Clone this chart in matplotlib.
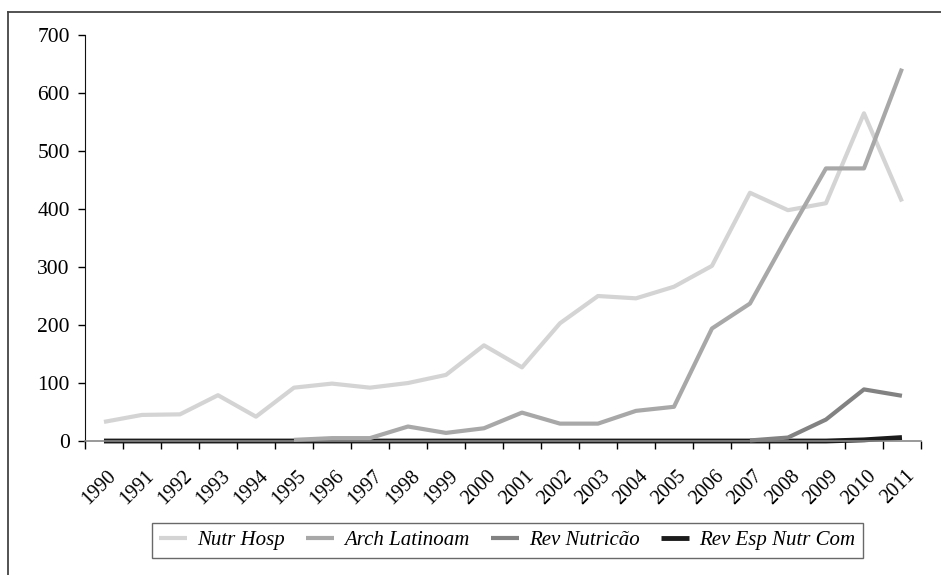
import numpy as np
import matplotlib
matplotlib.use('Agg')
import matplotlib.pyplot as plt
from matplotlib.lines import Line2D
from matplotlib.transforms import ScaledTranslation

years = [str(y) for y in range(1990, 2012)]

nutr_hosp = [33, 45, 46, 79, 42, 92, 99, 92, 100, 114, 165, 127,
             203, 250, 246, 266, 302, 428, 398, 410, 565, 413]
arch_latinoam = [np.nan, np.nan, np.nan, np.nan, np.nan, 2, 5, 5, 25, 14, 22, 49,
                 30, 30, 52, 59, 194, 237, 355, 470, 470, 642]
rev_nutricao = [np.nan] * 17 + [1, 6, 37, 89, 78]
rev_esp_nutr_com = [0] * 19 + [0, 2, 6]

series = [
    ('Nutr Hosp', nutr_hosp, '#d4d4d4', 3.0),
    ('Arch Latinoam', arch_latinoam, '#a8a8a8', 3.0),
    ('Rev Nutricão', rev_nutricao, '#828282', 3.0),
    ('Rev Esp Nutr Com', rev_esp_nutr_com, '#1c1c1c', 3.5),
]

plt.rcParams['font.family'] = ['Liberation Serif', 'DejaVu Serif']

fig = plt.figure(figsize=(9.41, 5.75), dpi=100)
ax = fig.add_axes([0.0903, 0.233, 0.8884, 0.7061])

x = np.arange(len(years))
zs = [3, 4, 5, 2]
for (name, vals, col, lw), z in zip(series, zs):
    ax.plot(x, vals, color=col, lw=lw, label=name, zorder=z,
            solid_capstyle='butt', solid_joinstyle='round', clip_on=False)

ax.set_xlim(-0.5, len(years) - 0.5)
ax.set_ylim(0, 700)
ax.set_yticks(range(0, 701, 100))
ax.tick_params(axis='y', labelsize=15.5, length=5, width=1, direction='out', pad=6)

ax.set_xticks(np.arange(len(years) + 1) - 0.5)
ax.set_xticklabels([])
ax.set_xticks(x, minor=True)
ax.set_xticklabels(years, minor=True, rotation=45, ha='right', va='center',
                   rotation_mode='anchor', fontsize=14.5)
ax.tick_params(axis='x', which='major', length=6, width=1, direction='out')
ax.tick_params(axis='x', which='minor', length=0, pad=16)
shift = ScaledTranslation(7 / 72, -7 / 72, fig.dpi_scale_trans)
for lab in ax.get_xticklabels(minor=True):
    lab.set_transform(lab.get_transform() + shift)

for s in ['top', 'right']:
    ax.spines[s].set_visible(False)
ax.spines['left'].set_color('#111111')
ax.spines['bottom'].set_color('#888888')
ax.spines['bottom'].set_linewidth(1.2)

leg = fig.legend(loc='center', bbox_to_anchor=(0.539, 0.06), ncol=4,
                 prop={'style': 'italic', 'size': 15}, frameon=True,
                 fancybox=False, edgecolor='#444444', handlelength=1.35,
                 columnspacing=1.0, handletextpad=0.5, borderpad=0.35)
leg.get_frame().set_linewidth(1.0)

# outer frame (only left and top sides visible in the crop)
fig.add_artist(Line2D([8 / 941, 8 / 941], [0, 1 - 12 / 575], color='#444444', lw=1.3))
fig.add_artist(Line2D([8 / 941, 1], [1 - 12 / 575, 1 - 12 / 575], color='#444444', lw=1.3))

plt.savefig('out.png', dpi=100)
